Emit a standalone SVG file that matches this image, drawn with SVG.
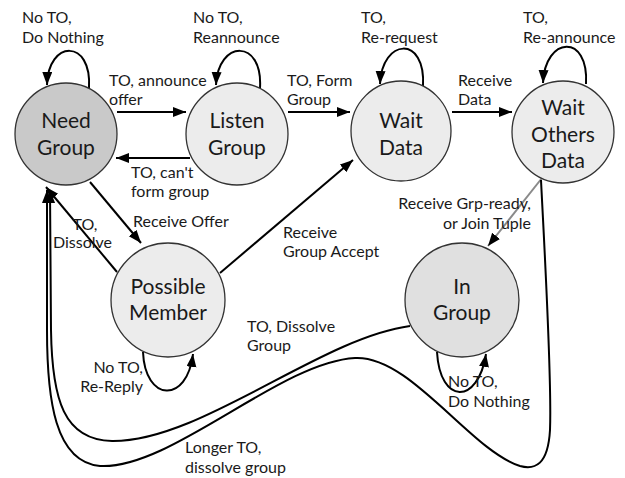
<svg xmlns="http://www.w3.org/2000/svg" width="625" height="478" viewBox="0 0 625 478">
<style>
.node{stroke:#333;stroke-width:1.3}
.nt{font-family:Lato,"Open Sans","DejaVu Sans",sans-serif;font-size:21px;fill:#1a1a1a;text-anchor:middle}
.lb{font-family:Lato,"Open Sans","DejaVu Sans",sans-serif;font-size:16px;fill:#1a1a1a}
.e{fill:none;stroke:#000;stroke-width:2;marker-end:url(#ah)}
.g{stroke:#8a8a8a}
</style>
<defs>
<marker id="ah" markerUnits="userSpaceOnUse" markerWidth="14" markerHeight="12" refX="13" refY="5" orient="auto">
<path d="M0,0 L13,5 L0,10 z" fill="#000"/>
</marker>
</defs>
<rect width="625" height="478" fill="#fff"/>
<g id="connectors">
<path class="e" d="M89 88 C92 38 48 40 47 85"/>
<path class="e" d="M260 88 C263 38 218 40 216 85"/>
<path class="e" d="M423 86 C426 35 382 38 380 84"/>
<path class="e" d="M586 84 C589 33 545 36 543 83"/>
<path class="e" d="M117 112 L186 112"/>
<path class="e" d="M190 158 L116 158"/>
<path class="e" d="M288 112 L350 112"/>
<path class="e" d="M452 112 L512 112"/>
<path class="e" d="M90 182 L141 243"/>
<path class="e" d="M117 272 L46 187"/>
<path class="e" d="M220 273 L353 160"/>
<path class="e g" d="M542 178 L488 246"/>
<path class="e" d="M143 352 C145 402 187 404 193 354"/>
<path class="e" d="M437 352 C440 405 478 405 486 354"/>
<path class="e" d="M410 326 C320 338 200 442 112 441 C64 440 52 400 51 330 L50 190"/>
<path class="e" d="M541 180 C545 260 552 380 550 430 C548 465 535 470 520 466 C470 450 410 355 355 358 C280 362 170 470 100 466 C55 462 47 400 47 330 L47 190"/>
</g>
<g id="need-group"><circle class="node" cx="66" cy="134" r="51" fill="#c9c9c9"/><text class="nt" x="66" y="128">Need</text><text class="nt" x="66" y="155">Group</text></g>
<g id="listen-group"><circle class="node" cx="237" cy="134" r="51" fill="#ececec"/><text class="nt" x="237" y="128">Listen</text><text class="nt" x="237" y="155">Group</text></g>
<g id="wait-data"><circle class="node" cx="401" cy="131" r="50" fill="#ececec"/><text class="nt" x="401" y="128">Wait</text><text class="nt" x="401" y="155">Data</text></g>
<g id="wait-others-data"><circle class="node" cx="563" cy="132" r="51" fill="#ececec"/><text class="nt" x="563" y="115">Wait</text><text class="nt" x="563" y="142">Others</text><text class="nt" x="563" y="168">Data</text></g>
<g id="possible-member"><circle class="node" cx="168" cy="300" r="57" fill="#ececec"/><text class="nt" x="168" y="294">Possible</text><text class="nt" x="168" y="320">Member</text></g>
<g id="in-group"><circle class="node" cx="462" cy="300" r="57" fill="#e0e0e0"/><text class="nt" x="462" y="294">In</text><text class="nt" x="462" y="320">Group</text></g>
<g id="labels">
<text class="lb" x="22" y="23">No TO,</text><text class="lb" x="22" y="43">Do Nothing</text>
<text class="lb" x="193" y="23">No TO,</text><text class="lb" x="193" y="43">Reannounce</text>
<text class="lb" x="361" y="23">TO,</text><text class="lb" x="361" y="43">Re-request</text>
<text class="lb" x="523" y="23">TO,</text><text class="lb" x="523" y="43">Re-announce</text>
<text class="lb" x="109" y="86">TO, announce</text><text class="lb" x="109" y="105">offer</text>
<text class="lb" x="287" y="86">TO, Form</text><text class="lb" x="287" y="105">Group</text>
<text class="lb" x="458" y="86">Receive</text><text class="lb" x="458" y="105">Data</text>
<text class="lb" x="131" y="178">TO, can't</text><text class="lb" x="131" y="197">form group</text>
<text class="lb" x="133" y="227">Receive Offer</text>
<text class="lb" x="85" y="230" text-anchor="middle">TO,</text><text class="lb" x="53" y="248">Dissolve</text>
<text class="lb" x="283" y="238">Receive</text><text class="lb" x="283" y="257">Group Accept</text>
<text class="lb" x="531" y="209" text-anchor="end">Receive Grp-ready,</text><text class="lb" x="531" y="229" text-anchor="end">or Join Tuple</text>
<text class="lb" x="247" y="332">TO, Dissolve</text><text class="lb" x="247" y="351">Group</text>
<text class="lb" x="143" y="373" text-anchor="end">No TO,</text><text class="lb" x="143" y="392" text-anchor="end">Re-Reply</text>
<text class="lb" x="448" y="387">No TO,</text><text class="lb" x="448" y="407">Do Nothing</text>
<text class="lb" x="185" y="453">Longer TO,</text><text class="lb" x="185" y="473">dissolve group</text>
</g>
</svg>
